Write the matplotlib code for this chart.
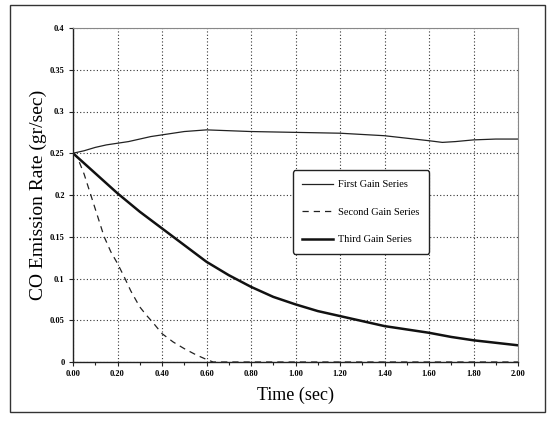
import matplotlib.pyplot as plt
from matplotlib.patches import Rectangle

# values
time_first = [0.0, 0.05, 0.1, 0.15, 0.2, 0.25, 0.3, 0.35, 0.4, 0.45, 0.5, 0.55, 0.6, 0.7, 0.8,
              1.0, 1.2, 1.4, 1.5, 1.6, 1.66, 1.72, 1.8, 1.9, 2.0]
rate_first = [0.25, 0.253, 0.257, 0.26, 0.262, 0.264, 0.267, 0.27, 0.272, 0.274, 0.276, 0.277,
              0.278, 0.277, 0.276, 0.275, 0.274, 0.271, 0.268, 0.265, 0.263, 0.264, 0.266,
              0.267, 0.267]

time_second = [0.0, 0.02, 0.05, 0.08, 0.11, 0.14, 0.17, 0.2, 0.23, 0.26, 0.3, 0.33, 0.36, 0.4,
               0.45, 0.5, 0.55, 0.6, 0.63, 0.8, 1.2, 1.6, 2.0]
rate_second = [0.25, 0.245, 0.225, 0.2, 0.175, 0.15, 0.132, 0.118, 0.102, 0.085, 0.066, 0.056,
               0.047, 0.034, 0.024, 0.016, 0.009, 0.003, 0.0, 0.0, 0.0, 0.0, 0.0]

time_third = [0.0, 0.1, 0.2, 0.3, 0.4, 0.5, 0.6, 0.7, 0.8, 0.9, 1.0, 1.1, 1.2, 1.3, 1.4, 1.5,
              1.6, 1.7, 1.8, 1.9, 2.0]
rate_third = [0.25, 0.226, 0.202, 0.18, 0.16, 0.14, 0.12, 0.104, 0.09, 0.078, 0.069, 0.061,
              0.055, 0.049, 0.043, 0.039, 0.035, 0.03, 0.026, 0.023, 0.02]

x_ticks = [0.0, 0.2, 0.4, 0.6, 0.8, 1.0, 1.2, 1.4, 1.6, 1.8, 2.0]
x_labels = ["0.00", "0.20", "0.40", "0.60", "0.80", "1.00", "1.20", "1.40", "1.60", "1.80", "2.00"]
y_ticks = [0.0, 0.05, 0.1, 0.15, 0.2, 0.25, 0.3, 0.35, 0.4]
y_labels = ["0", "0.05", "0.1", "0.15", "0.2", "0.25", "0.3", "0.35", "0.4"]

plt.rcParams['font.family'] = ['Liberation Serif', 'DejaVu Serif']

fig = plt.figure(figsize=(5.49, 4.22), dpi=100)
fig.patches.append(Rectangle((10 / 549, 10 / 422), 535 / 549, 407 / 422,
                             transform=fig.transFigure, fill=False,
                             edgecolor='#333333', linewidth=1.0))

ax = fig.add_axes([73 / 549, 60 / 422, 445 / 549, 334 / 422])

ax.plot(time_first, rate_first, color='#222222', linewidth=0.9, label='First Gain Series')
ax.plot(time_second, rate_second, color='#222222', linewidth=0.9, linestyle=(0, (5, 4)),
        label='Second Gain Series')
ax.plot(time_third, rate_third, color='#111111', linewidth=1.8, label='Third Gain Series')

ax.set_xlim(0, 2.0)
ax.set_ylim(0, 0.4)
ax.set_xticks(x_ticks)
ax.set_xticklabels(x_labels, fontsize=6, fontweight='bold')
ax.set_xticks([0.1, 0.3, 0.5, 0.7, 0.9, 1.1, 1.3, 1.5, 1.7, 1.9], minor=True)
ax.set_yticks(y_ticks)
ax.set_yticklabels(y_labels, fontsize=6, fontweight='bold')
ax.tick_params(axis='both', which='major', length=3, width=0.8, color='#222222', pad=3)
ax.tick_params(axis='x', which='minor', length=2, width=0.8, color='#222222')

ax.grid(True, which='major', color='#333333', linestyle=(0, (1, 2)), linewidth=0.8)
for side in ['top', 'right']:
    ax.spines[side].set_color('#888888')
    ax.spines[side].set_linewidth(0.8)
for side in ['left', 'bottom']:
    ax.spines[side].set_color('#222222')
    ax.spines[side].set_linewidth(1.0)

ax.set_xlabel('Time (sec)', fontsize=13, labelpad=6)
ax.set_ylabel('CO Emission Rate (gr/sec)', fontsize=14, labelpad=2)

leg = ax.legend(loc='center', bbox_to_anchor=(0.647, 0.449), fontsize=7.5,
                labelspacing=1.75, handlelength=3.0, handletextpad=0.5, fancybox=True,
                framealpha=1, edgecolor='#222222', borderpad=0.9)
leg.get_frame().set_linewidth(1.0)

fig.savefig('out.png', dpi=100)
